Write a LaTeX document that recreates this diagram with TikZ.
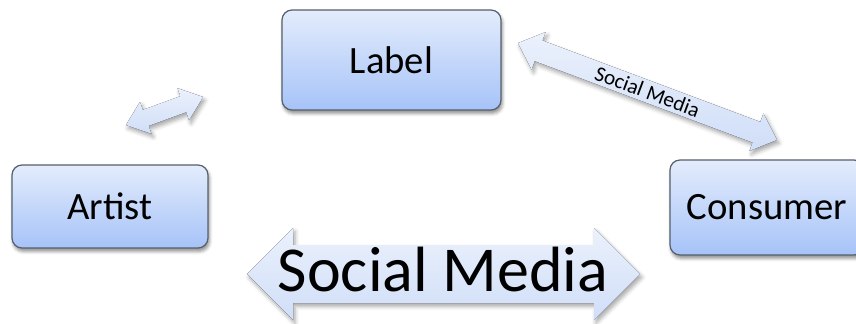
\documentclass[tikz,border=0pt]{standalone}
\usepackage{fontspec}
\setmainfont{Carlito}
\usetikzlibrary{shadows.blur}
\definecolor{boxtop}{HTML}{E3ECFC}
\definecolor{boxbot}{HTML}{A6C3F8}
\definecolor{boxline}{HTML}{56606C}
\definecolor{arrtop}{HTML}{EBF1FC}
\definecolor{arrbot}{HTML}{D0DEF8}
\tikzset{
  box/.style={draw=boxline, line width=0.9pt, rounded corners=7.5pt,
    top color=boxtop, bottom color=boxbot, inner sep=0pt,
    font=\fontsize{29}{34}\selectfont,
    blur shadow={shadow xshift=1pt, shadow yshift=-2.5pt, shadow blur radius=2.5pt, shadow opacity=45}},
  arrowbody/.style={top color=arrtop, bottom color=arrbot,
    blur shadow={shadow xshift=1.5pt, shadow yshift=-2.5pt, shadow blur radius=3pt, shadow opacity=35}},
}
% #1 centre, #2 angle, #3 half length, #4 shaft half width, #5 head half width, #6 head length
\newcommand\dblarr[6]{%
  \begin{scope}[shift={#1}, rotate=#2]
    \fill[arrowbody] (-#3,0) -- (-#3+#6,#5) -- (-#3+#6,#4) -- (#3-#6,#4) -- (#3-#6,#5) -- (#3,0)
      -- (#3-#6,-#5) -- (#3-#6,-#4) -- (-#3+#6,-#4) -- (-#3+#6,-#5) -- cycle;
  \end{scope}}
\begin{document}
\begin{tikzpicture}[x=0.75pt,y=-0.75pt]
  \useasboundingbox (0,0) rectangle (856,324);
  \clip (0,0) rectangle (856,324);
  % arrow end points
  \coordinate (a1) at (126,125);
  \coordinate (a2) at (203,97);
  \coordinate (b1) at (518,43);
  \coordinate (b2) at (777,140);
  \coordinate (c1) at (247,274);
  \coordinate (c2) at (640,274);
  % arrows
  \dblarr{($(a1)!0.5!(a2)$)}{20}{41}{8.5}{17}{21}
  \dblarr{($(b1)!0.5!(b2)$)}{-20.5}{138.3}{11}{20}{22}
  \dblarr{($(c1)!0.5!(c2)$)}{0}{196.5}{29}{46}{46}
  % boxes
  \node[box, minimum width=219*0.75pt, minimum height=100*0.75pt] (label) at (391.5,60) {Label};
  \node[box, minimum width=196*0.75pt, minimum height=83*0.75pt] (artist) at (110,206.5) {Artist};
  \node[box, minimum width=194*0.75pt, minimum height=95*0.75pt] (consumer) at (767,207.5) {Consumer};
  % arrow labels
  \node[rotate=-20.5, font=\fontsize{16}{19}\selectfont, inner sep=0pt] (smsmall) at ($(b1)!0.5!(b2)$) {Social Media};
  \node[font=\fontsize{48}{56}\selectfont, inner sep=0pt] (smbig) at (443,270) {Social Media};
\end{tikzpicture}
\end{document}
